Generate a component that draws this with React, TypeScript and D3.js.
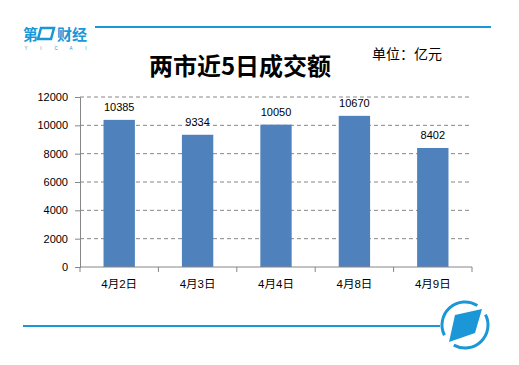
import { useEffect, useRef } from 'react';
import * as d3 from 'd3';

const categories = ['4月2日', '4月3日', '4月4日', '4月8日', '4月9日'];
const values = [10385, 9334, 10050, 10670, 8402];
const yTicks = [0, 2000, 4000, 6000, 8000, 10000, 12000];
const logoLetters = ['Y', 'I', 'C', 'A', 'I'];

const App = () => {
  const svgRef = useRef<SVGSVGElement>(null);

  useEffect(() => {
    if (!svgRef.current) return;
    d3.select(svgRef.current).selectAll('*').remove();

    const width = 519;
    const height = 365;
    const margin = { top: 97, right: 47, bottom: 98, left: 80 };
    const chartWidth = width - margin.left - margin.right;
    const chartHeight = height - margin.top - margin.bottom;
    const brand = '#1b96d6';
    const font = 'Arial, "Liberation Sans", "Noto Sans CJK SC", sans-serif';

    const svg = d3.select(svgRef.current)
      .attr('width', width)
      .attr('height', height)
      .style('display', 'block')
      .style('background', '#fff');

    // Header line + logo
    svg.append('line')
      .attr('x1', 95).attr('x2', 491)
      .attr('y1', 27).attr('y2', 27)
      .attr('stroke', brand).attr('stroke-width', 2);

    const logo = svg.append('g').attr('fill', brand);
    logo.append('text')
      .attr('x', 23).attr('y', 40)
      .attr('font-family', '"Noto Sans CJK SC", sans-serif')
      .attr('font-weight', 'bold')
      .attr('font-size', 15)
      .text('第');
    logo.append('path')
      .attr('d', 'M41,28 L54,28 L51,39 L38,39 Z')
      .attr('fill', 'none')
      .attr('stroke', brand)
      .attr('stroke-width', 2.5);
    logo.append('text')
      .attr('x', 57).attr('y', 40)
      .attr('font-family', '"Noto Sans CJK SC", sans-serif')
      .attr('font-weight', 'bold')
      .attr('font-size', 15)
      .attr('letter-spacing', 0)
      .text('财经');
    logo.selectAll('.yl')
      .data(logoLetters)
      .enter()
      .append('text')
      .attr('x', (_, i) => 26 + i * 15)
      .attr('y', 50)
      .attr('text-anchor', 'middle')
      .attr('font-family', font)
      .attr('font-size', 4.5)
      .text(d => d);

    svg.append('text')
      .attr('x', 240).attr('y', 75)
      .attr('text-anchor', 'middle')
      .attr('font-family', '"Noto Sans CJK SC", sans-serif')
      .attr('font-weight', 'bold')
      .attr('font-size', 24)
      .attr('fill', '#000')
      .text('两市近5日成交额');

    svg.append('text')
      .attr('x', 372).attr('y', 59)
      .attr('font-family', '"Noto Sans CJK SC", sans-serif')
      .attr('font-size', 14)
      .attr('fill', '#000')
      .text('单位：亿元');

    const g = svg.append('g')
      .attr('transform', `translate(${margin.left},${margin.top})`);

    const x = d3.scaleBand()
      .domain(categories)
      .range([0, chartWidth])
      .paddingInner(0.6)
      .paddingOuter(0.3);

    const xEdges = d3.scaleLinear()
      .domain([0, categories.length])
      .range([0, chartWidth]);

    const y = d3.scaleLinear()
      .domain([0, 12000])
      .range([chartHeight, 0]);

    // Gridlines
    g.selectAll('.grid')
      .data(yTicks.filter(d => d > 0))
      .enter()
      .append('line')
      .attr('x1', 0).attr('x2', chartWidth)
      .attr('y1', d => y(d)).attr('y2', d => y(d))
      .attr('stroke', '#868686')
      .attr('stroke-dasharray', '4,3');

    // Bars
    g.selectAll('.bar')
      .data(values)
      .enter()
      .append('rect')
      .attr('x', (_, i) => x(categories[i]) || 0)
      .attr('y', d => y(d))
      .attr('width', x.bandwidth())
      .attr('height', d => chartHeight - y(d))
      .attr('fill', '#4f81bd');

    // Value labels
    g.selectAll('.label')
      .data(values)
      .enter()
      .append('text')
      .attr('x', (_, i) => (x(categories[i]) || 0) + x.bandwidth() / 2)
      .attr('y', d => y(d) - 9)
      .attr('text-anchor', 'middle')
      .attr('font-family', font)
      .attr('font-size', 11)
      .attr('fill', '#000')
      .text(d => d);

    // Y axis
    const yAxis = g.append('g')
      .call(d3.axisLeft(y).tickValues(yTicks).tickSize(5).tickPadding(7).tickFormat(d => `${d}`));
    yAxis.select('.domain').attr('stroke', '#868686');
    yAxis.selectAll('.tick line').attr('stroke', '#868686');
    yAxis.selectAll('text')
      .attr('font-family', font)
      .attr('font-size', 11)
      .attr('fill', '#000');

    // X axis
    const xAxisG = g.append('g').attr('transform', `translate(0,${chartHeight})`);
    xAxisG.append('line')
      .attr('x1', 0).attr('x2', chartWidth)
      .attr('stroke', '#868686');
    xAxisG.selectAll('.xtick')
      .data(d3.range(categories.length + 1))
      .enter()
      .append('line')
      .attr('x1', d => xEdges(d)).attr('x2', d => xEdges(d))
      .attr('y1', 0).attr('y2', 5)
      .attr('stroke', '#868686');
    xAxisG.selectAll('.xlabel')
      .data(categories)
      .enter()
      .append('text')
      .attr('x', d => (x(d) || 0) + x.bandwidth() / 2)
      .attr('y', 21)
      .attr('text-anchor', 'middle')
      .attr('font-family', font)
      .attr('font-size', 11.5)
      .attr('fill', '#000')
      .text(d => d);

    // Footer line + emblem
    svg.append('line')
      .attr('x1', 23).attr('x2', 440)
      .attr('y1', 326).attr('y2', 326)
      .attr('stroke', brand).attr('stroke-width', 2);

    const arc = d3.arc();
    const emblem = svg.append('g').attr('transform', 'translate(465,325)');
    emblem.append('path')
      .attr('d', arc({ innerRadius: 21.5, outerRadius: 24.5, startAngle: 1.1, endAngle: 3.65 }) || '')
      .attr('fill', brand);
    emblem.append('path')
      .attr('d', arc({ innerRadius: 21.5, outerRadius: 24.5, startAngle: 4.25, endAngle: 6.85 }) || '')
      .attr('fill', brand);
    emblem.append('path')
      .attr('d', 'M-10,-10 L17,-16 L10,8 L-16,17 Z')
      .attr('fill', brand);
  }, []);

  return <svg ref={svgRef} style={{ position: 'absolute', left: 0, top: 0 }} />;
};

export default App;
